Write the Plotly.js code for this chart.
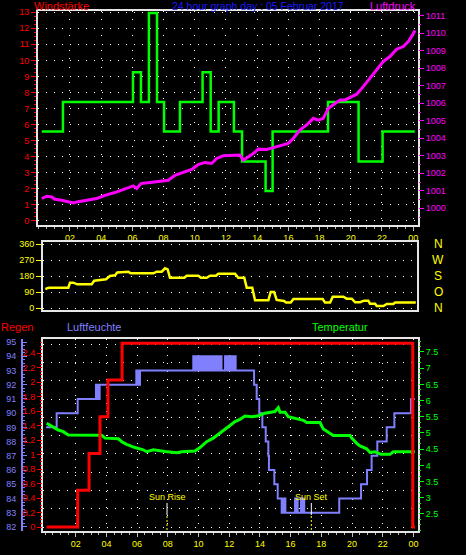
<!DOCTYPE html>
<html><head><meta charset="utf-8">
<script src="https://cdn.plot.ly/plotly-3.0.1.min.js"></script>
<style>html,body{margin:0;padding:0;background:#000;}#chart{width:466px;height:555px;}</style>
</head><body><div id="chart"></div>
<script>
// ---------- DATA ----------
const hourTicks = [2,4,6,8,10,12,14,16,18,20,22,24];
const hourLabels = ['02','04','06','08','10','12','14','16','18','20','22','00'];

// Windstärke (km/h), step line
const windT = [0.19,1.55,6.04,6.55,7.06,7.58,8.03,9.05,10.50,11.02,11.53,12.51,13.03,14.54,14.99,18.54,20.50,22.04,24.10];
const windV = [5.56,7.41,9.26,7.41,12.96,7.41,5.56,7.41,9.26,5.56,7.41,5.56,3.70,1.85,5.56,7.41,3.70,5.56,5.56];

// Luftdruck (hPa)
const pressT = [0.19,0.51,0.83,1.04,1.47,1.79,2.21,2.53,3.17,3.71,4.24,4.88,5.53,6.06,6.28,6.55,7.13,7.66,8.30,8.73,9.37,9.80,10.22,10.65,11.08,11.40,11.83,12.26,12.90,13.11,13.43,13.75,14.07,14.61,14.93,15.46,15.99,16.31,16.74,17.17,17.60,17.92,18.24,18.56,18.88,19.31,19.63,20.38,20.80,21.23,21.66,22.08,22.51,22.94,23.37,23.69,23.90,24.12];
const pressV = [1000.56,1000.69,1000.65,1000.52,1000.46,1000.40,1000.30,1000.38,1000.46,1000.56,1000.74,1000.90,1001.11,1001.28,1001.13,1001.41,1001.47,1001.53,1001.60,1001.89,1002.08,1002.22,1002.50,1002.62,1002.56,1002.85,1003.00,1003.02,1003.04,1002.75,1002.94,1003.13,1003.38,1003.36,1003.44,1003.57,1003.71,1003.99,1004.47,1004.76,1005.14,1005.04,1005.14,1005.71,1005.90,1006.19,1006.19,1006.52,1006.95,1007.43,1007.91,1008.38,1008.67,1009.09,1009.24,1009.53,1009.82,1010.16];

// Windrichtung (degrees)
const dirT = [0.05,0.11,0.28,1.52,1.63,1.84,2.10,3.04,3.21,3.58,3.97,4.23,4.56,4.71,5.43,5.58,7.06,7.28,7.60,7.82,7.99,8.14,9.07,9.23,9.99,10.16,10.53,10.75,11.14,11.29,12.38,12.59,12.98,13.14,13.50,13.68,14.55,14.70,14.92,15.09,15.57,15.70,16.01,16.18,18.09,18.24,18.57,18.74,19.43,19.65,19.98,20.20,20.52,20.78,21.06,21.17,21.50,21.61,22.04,22.26,22.69,22.80,24.15];
const dirV = [105,112,116,116,144,144,135,135,155,159,163,182,186,202,206,197,197,206,206,225,219,172,172,183,183,172,172,183,183,195,195,172,172,116,116,45,45,92,92,47,41,32,32,52,52,32,32,65,65,54,54,34,34,43,43,26,26,13,13,24,24,32,32];
const compassLabels = ['N','W','S','O','N'];
const compassDeg = [360,270,180,90,0];

// Luftfeuchte (%), step line
const humT = [0.07,0.76,2.13,3.32,3.38,3.44,3.50,3.56,5.95,6.01,6.07,6.13,6.19,
  9.66,9.74,9.82,9.90,9.98,10.06,10.14,10.22,10.30,10.38,10.46,10.54,10.62,10.70,10.78,10.86,10.94,11.02,11.10,11.18,11.26,11.34,11.42,11.50,11.58,
  11.73,11.81,11.89,11.97,12.05,12.13,12.21,12.29,12.37,12.42,
  13.62,13.79,13.96,14.16,14.38,14.55,14.59,14.94,15.16,15.42,15.50,15.56,15.62,15.66,
  16.29,16.35,16.41,16.46,16.68,16.74,16.81,16.89,
  19.17,20.59,20.98,21.28,21.65,22.26,22.76,23.84,24.10];
const humV = [89,90,91,92,91,92,91,92,93,92,93,92,93,
  94,93,94,93,94,93,94,93,94,93,94,93,94,93,94,93,94,93,94,93,94,93,94,93,93,
  94,93,94,93,94,93,94,93,94,93,
  92,91,90,89,88,87,86,85,84,83,84,83,84,83,
  84,83,84,83,84,83,84,83,
  84,85,86,87,88,89,90,91,91];

// Temperatur (°C)
const tempT = [0.11,0.33,0.54,0.87,1.19,1.52,2.28,3.69,3.91,4.78,5.00,5.32,5.86,6.40,6.63,7.06,7.82,8.58,8.91,9.77,10.10,10.53,10.96,11.40,11.73,12.05,12.38,12.70,13.03,13.47,13.90,14.33,14.98,15.20,15.31,15.64,15.85,16.29,16.83,17.05,17.92,18.13,18.46,18.78,19.87,19.98,20.31,20.52,20.96,21.17,21.50,21.89,22.48,22.69,24.10];
const tempV = [5.30,5.25,5.18,5.09,5.04,4.94,4.93,4.93,4.84,4.82,4.73,4.65,4.55,4.48,4.42,4.48,4.43,4.39,4.42,4.44,4.55,4.73,4.84,4.99,5.10,5.23,5.35,5.42,5.52,5.50,5.53,5.61,5.66,5.78,5.64,5.64,5.50,5.45,5.39,5.32,5.32,5.12,5.02,4.92,4.92,4.84,4.68,4.60,4.51,4.40,4.42,4.34,4.34,4.42,4.42];
const tempTicks = [2.5,3,3.5,4,4.5,5,5.5,6,6.5,7,7.5];

// Regen (mm), step line
const rainT = [0.11,2.13,2.87,3.58,4.10,5.02,23.96,24.10];
const rainV = [0,0.508,1.016,1.524,2.032,2.54,0,0];

// Sun events
const sunTimes = [7.95,17.35];
const sunLabels = ['Sun Rise','Sun Set'];

// ---------- LAYOUT HELPERS ----------
const W = 466, H = 555;
const px = x => x / W;
const py = y => 1 - y / H;
const FONT = 'Liberation Sans, Arial, sans-serif';
const DOT = '1px,7px';
const BORDER = '#e6e6e6';
const RED = '#ff0000', MAG = '#ff00ff', YEL = '#ffff00', GRN = '#00ff00', LAV = '#8080ff';
const tf = c => ({family: FONT, size: 9, color: c});

const traces = [
  {x: windT, y: windV, xaxis: 'x', yaxis: 'y', mode: 'lines', line: {shape: 'hv', color: GRN, width: 2.5}, hoverinfo: 'skip'},
  {x: pressT, y: pressV, xaxis: 'x', yaxis: 'y2', mode: 'lines', line: {color: MAG, width: 3}, hoverinfo: 'skip'},
  {x: dirT, y: dirV, xaxis: 'x2', yaxis: 'y3', mode: 'lines', line: {color: YEL, width: 2.5}, hoverinfo: 'skip'},
  {x: [], y: [], xaxis: 'x3', yaxis: 'y4', mode: 'lines', hoverinfo: 'skip'},
  {x: humT, y: humV, xaxis: 'x3', yaxis: 'y5', mode: 'lines', line: {shape: 'hv', color: LAV, width: 2}, hoverinfo: 'skip'},
  {x: tempT, y: tempV, xaxis: 'x3', yaxis: 'y6', mode: 'lines', line: {color: GRN, width: 3}, hoverinfo: 'skip'},
  {x: rainT, y: rainV, xaxis: 'x3', yaxis: 'y7', mode: 'lines', line: {shape: 'hv', color: RED, width: 3}, hoverinfo: 'skip'}
];

const xCommon = {
  tickmode: 'array', tickvals: hourTicks, ticktext: hourLabels,
  ticks: 'outside', ticklen: 4, tickcolor: '#bbbbbb', tickwidth: 1,
  minor: {dtick: 0.5, tick0: 0, ticks: 'outside', ticklen: 2, tickcolor: '#bbbbbb', showgrid: false},
  showgrid: true, gridcolor: '#ffffff', griddash: DOT, gridwidth: 1,
  showline: true, linecolor: BORDER, linewidth: 2, mirror: true, zeroline: false,
  tickfont: tf(YEL)
};

const annotations = [
  {text: 'Windstärke', x: px(33), y: py(-1.5), xanchor: 'left', yanchor: 'top', font: {family: FONT, size: 11, color: RED}},
  {text: '24 hour graph day : 05 Februar 2017', x: px(258), y: py(-1.5), xanchor: 'center', yanchor: 'top', font: {family: FONT, size: 10.5, color: '#1a1aff'}},
  {text: 'Luftdruck', x: px(417), y: py(-1.5), xanchor: 'right', yanchor: 'top', font: {family: FONT, size: 11, color: MAG}},
  {text: 'Regen', x: px(0), y: py(327), xanchor: 'left', font: {family: FONT, size: 11, color: RED}},
  {text: 'Luftfeuchte', x: px(66), y: py(327), xanchor: 'left', font: {family: FONT, size: 11, color: LAV}},
  {text: 'Temperatur', x: px(311), y: py(327), xanchor: 'left', font: {family: FONT, size: 11, color: GRN}}
].map(a => Object.assign({xref: 'paper', yref: 'paper', yanchor: 'middle', showarrow: false, borderpad: 0}, a));

compassLabels.forEach((t, i) => annotations.push({
  text: t, xref: 'paper', x: px(438), yref: 'y3', y: compassDeg[i],
  xanchor: 'center', yanchor: 'middle', showarrow: false,
  font: {family: FONT, size: 12, color: YEL}
}));
sunLabels.forEach((t, i) => annotations.push({
  text: t, xref: 'x3', x: sunTimes[i], yref: 'paper', y: py(497.5),
  xanchor: 'center', yanchor: 'middle', showarrow: false,
  font: {family: FONT, size: 9, color: YEL}
}));

const shapes = [];
sunTimes.forEach(t => {
  shapes.push({type: 'line', xref: 'x3', yref: 'paper', x0: t, x1: t, y0: py(515), y1: py(503), line: {color: '#ffffff', width: 1}});
  shapes.push({type: 'line', xref: 'x3', yref: 'paper', x0: t, x1: t, y0: py(530), y1: py(515), line: {color: YEL, width: 1, dash: '2px,2px'}});
});

const layout = {
  width: W, height: H,
  margin: {l: 0, r: 0, t: 0, b: 0, pad: 0},
  paper_bgcolor: '#000000', plot_bgcolor: '#000000',
  showlegend: false,
  font: {family: FONT, size: 9, color: '#ffffff'},
  // top panel
  xaxis: Object.assign({}, xCommon, {domain: [px(38), px(418)], range: [-0.05, 24.31], anchor: 'y'}),
  yaxis: {
    domain: [py(224.5), py(10.5)], range: [-0.237, 13.11], anchor: 'x',
    tickmode: 'linear', tick0: 0, dtick: 1,
    ticks: 'outside', ticklen: 5, tickcolor: RED,
    minor: {dtick: 0.25, tick0: 0, ticks: 'outside', ticklen: 2, tickcolor: RED, showgrid: false},
    showgrid: true, gridcolor: '#ffffff', griddash: DOT, gridwidth: 1,
    showline: true, linecolor: BORDER, linewidth: 2, mirror: true, zeroline: false,
    tickfont: tf(RED)
  },
  yaxis2: {
    overlaying: 'y', side: 'right', anchor: 'x', range: [999.075, 1011.30],
    tickmode: 'linear', tick0: 1000, dtick: 1,
    ticks: 'outside', ticklen: 5, tickcolor: MAG,
    minor: {dtick: 0.5, tick0: 1000, ticks: 'outside', ticklen: 2, tickcolor: MAG, showgrid: false},
    showgrid: false, zeroline: false, showline: false,
    tickfont: tf(MAG)
  },
  // middle panel
  xaxis2: {
    domain: [px(43), px(417)], range: [-0.13, 24.23], anchor: 'y3',
    showticklabels: false, ticks: '', showgrid: false,
    showline: true, linecolor: BORDER, linewidth: 2, mirror: true, zeroline: false
  },
  yaxis3: {
    domain: [py(310), py(241.7)], range: [-9.6, 374.6], anchor: 'x2',
    tickmode: 'linear', tick0: 0, dtick: 90,
    ticks: 'outside', ticklen: 5, tickcolor: YEL,
    showgrid: true, gridcolor: '#ffffff', griddash: DOT, gridwidth: 1,
    showline: true, linecolor: BORDER, linewidth: 2, mirror: true, zeroline: false,
    tickfont: tf(YEL)
  },
  // bottom panel
  xaxis3: Object.assign({}, xCommon, {domain: [px(43), px(418)], range: [-0.13, 24.3], anchor: 'y4'}),
  yaxis4: {
    domain: [py(530.5), py(339.3)], range: [-0.19, 10.27], anchor: 'x3',
    tickmode: 'linear', tick0: 0, dtick: 1,
    showticklabels: false, ticks: '',
    showgrid: true, gridcolor: '#ffffff', griddash: DOT, gridwidth: 1,
    showline: true, linecolor: BORDER, linewidth: 2, mirror: true, zeroline: false
  },
  yaxis5: {
    overlaying: 'y4', anchor: 'free', position: px(22), side: 'left',
    range: [81.75, 95.19], tickmode: 'linear', tick0: 82, dtick: 1,
    ticks: 'inside', ticklen: 4, tickcolor: LAV,
    minor: {dtick: 0.25, tick0: 82, ticks: 'inside', ticklen: 2, tickcolor: LAV, showgrid: false},
    showline: true, linecolor: LAV, linewidth: 2,
    showgrid: false, zeroline: false, ticklabelstandoff: 3,
    tickfont: tf(LAV)
  },
  yaxis6: {
    overlaying: 'y4', anchor: 'x3', side: 'right',
    range: [1.99, 7.89], tickmode: 'array', tickvals: tempTicks,
    ticks: 'outside', ticklen: 5, tickcolor: GRN,
    minor: {tickmode: 'linear', dtick: 0.5 / 3, tick0: 2.5, ticks: 'outside', ticklen: 2, tickcolor: GRN, showgrid: false},
    showgrid: false, zeroline: false, showline: false,
    tickfont: tf(GRN)
  },
  yaxis7: {
    overlaying: 'y4', anchor: 'x3', side: 'left',
    range: [-0.048, 2.593], tickmode: 'linear', tick0: 0, dtick: 0.2,
    ticks: 'outside', ticklen: 5, tickcolor: RED,
    minor: {dtick: 0.05, tick0: 0, ticks: 'outside', ticklen: 2, tickcolor: RED, showgrid: false},
    showgrid: false, zeroline: false, showline: false,
    tickfont: tf(RED)
  },
  annotations: annotations,
  shapes: shapes
};

Plotly.newPlot('chart', traces, layout, {staticPlot: true, displayModeBar: false});
</script></body></html>
